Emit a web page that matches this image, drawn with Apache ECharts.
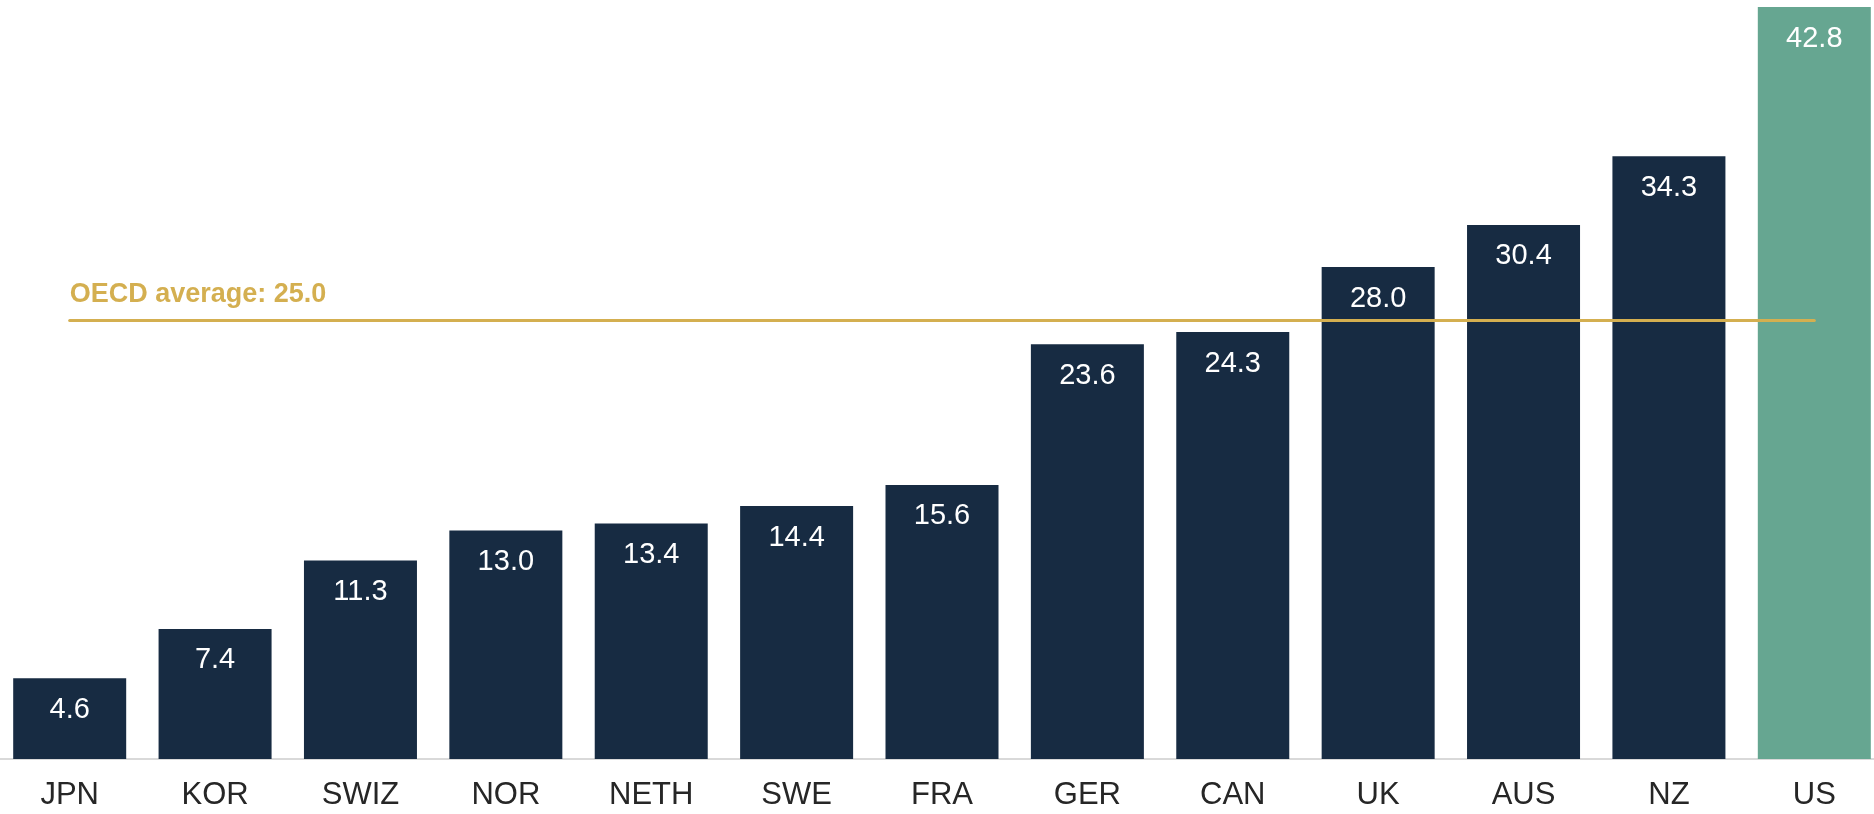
<!DOCTYPE html>
<html>
<head>
<meta charset="utf-8">
<script src="https://cdn.jsdelivr.net/npm/echarts@6/dist/echarts.min.js"></script>
<style>
  html, body { margin: 0; padding: 0; background: #fff; }
  #chart { width: 1874px; height: 814px; }
</style>
</head>
<body>
<div id="chart"></div>
<script>
// data
const countries = ['JPN', 'KOR', 'SWIZ', 'NOR', 'NETH', 'SWE', 'FRA', 'GER', 'CAN', 'UK', 'AUS', 'NZ', 'US'];
const values = [4.6, 7.4, 11.3, 13.0, 13.4, 14.4, 15.6, 23.6, 24.3, 28.0, 30.4, 34.3, 42.8];
const oecdAverage = 25.0;
const highlight = 'US';

const navy = '#172B42';
const green = '#66A691';
const gold = '#D4AF50';
const font = 'Arial, "Liberation Sans", sans-serif';

const chart = echarts.init(document.getElementById('chart'));

chart.setOption({
  animation: false,
  grid: { left: -3, right: -13, top: 0, bottom: 55, outerBoundsMode: 'none' },
  xAxis: {
    type: 'category',
    data: countries,
    axisTick: { show: false },
    axisLine: { lineStyle: { color: '#D9D9D9', width: 2 } },
    axisLabel: { color: '#262626', fontSize: 31, fontFamily: font, margin: 21 }
  },
  yAxis: {
    type: 'value',
    min: 0,
    max: 43.2,
    show: false,
    splitLine: { show: false }
  },
  series: [{
    type: 'bar',
    barWidth: 113,
    data: values.map((v, i) => ({
      value: v,
      itemStyle: { color: countries[i] === highlight ? green : navy }
    })),
    label: {
      show: true,
      position: 'insideTop',
      distance: 17,
      color: '#fff',
      fontSize: 29,
      fontFamily: font,
      formatter: p => p.value.toFixed(1)
    },
    markLine: {
      silent: true,
      symbol: ['none', 'none'],
      lineStyle: { color: gold, width: 3, type: 'solid', cap: 'round' },
      label: {
        show: true,
        position: 'insideStartTop',
        distance: [0, 12],
        color: gold,
        fontSize: 27,
        fontWeight: 'bold',
        fontFamily: font,
        formatter: 'OECD average: ' + oecdAverage.toFixed(1)
      },
      data: [[
        { coord: [countries[0], oecdAverage] },
        { coord: [countries[countries.length - 1], oecdAverage] }
      ]]
    }
  }]
});
</script>
</body>
</html>
